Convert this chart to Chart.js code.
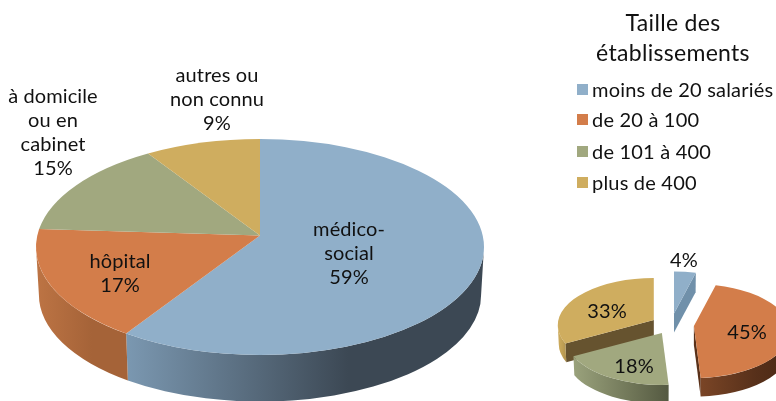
<!DOCTYPE html>
<html lang="fr">
<head>
  <meta charset="UTF-8" />
  <title>Lieux et taille des établissements</title>
  <style>
body { margin: 0; background: #fff; overflow: hidden; font-family: 'Lato', sans-serif; color: #111; }
canvas { position: absolute; left: 0; top: 0; }
.title { position: absolute; left: 573px; width: 200px; top: 7px; text-align: center; font-size: 23px; line-height: 30px; letter-spacing: .3px; }
.row { position: absolute; left: 592px; font-size: 20px; line-height: 24px; white-space: nowrap; letter-spacing: .2px; }
.swatch { position: absolute; left: 577px; width: 11px; height: 11px; }
  </style>
</head>
<body>
  <canvas id="lieux" width="776" height="401"></canvas>
  <canvas id="taille" width="776" height="401"></canvas>
  <div class="title">Taille des<br>établissements</div>
  <div id="legend"></div>

  <script src="https://cdn.jsdelivr.net/npm/chart.js"></script>
  <script>
    const lieuxLabels = [['médico-', 'social'], ['hôpital'], ['à domicile', 'ou en', 'cabinet'], ['autres ou', 'non connu']];
    const lieuxValues = [59, 17, 15, 9];
    const tailleCategories = ['moins de 20 salariés', 'de 20 à 100', 'de 101 à 400', 'plus de 400'];
    const tailleValues = [4, 45, 18, 33];
    const colors = ['#90afc9', '#d37d4a', '#a1a87f', '#cfad5f'];

    // wall shading, left to right
    const lieuxWalls = [['#7b98b1', '#3c4854', '#3c4854'], ['#bd7444', '#a56338', '#a56338'], ['#8c9270', '#8c9270', '#8c9270'], ['#b39550', '#b39550', '#b39550']];
    const tailleWalls = [['#7090aa', '#7090aa', '#7090aa'], ['#7a4526', '#57301a', '#4a2814'], ['#9aa27c', '#6f7557', '#545941'], ['#cfad5f', '#c0a055', '#b39550']];
    const tailleFaces = ['#7090aa', '#5a3119', '#6f7557', '#66532f'];

    // ray from the apex to the rim of the tilted ellipse
    function rimAngle(angle, g) {
      const dx = Math.cos(angle), dy = Math.sin(angle) * g.k;
      const a = dx * dx / (g.rx * g.rx) + dy * dy / (g.ry * g.ry);
      const b = -2 * dy * g.shift / (g.ry * g.ry);
      const c = g.shift * g.shift / (g.ry * g.ry) - 1;
      const t = (-b + Math.sqrt(b * b - 4 * a * c)) / (2 * a);
      let p = Math.atan2((t * dy - g.shift) / g.ry, t * dx / g.rx);
      while (p < angle - Math.PI) p += 2 * Math.PI;
      while (p > angle + Math.PI) p -= 2 * Math.PI;
      return p;
    }

    const pie3d = {
      id: 'pie3d',
      beforeDatasetsDraw(chart, args, opts) {
        const ctx = chart.ctx;
        const arcs = chart.getDatasetMeta(0).data;
        const bg = chart.data.datasets[0].backgroundColor;
        const order = opts.order || arcs.map((a, i) => i);

        order.forEach(i => {
          const arc = arcs[i];
          const mid = (arc.startAngle + arc.endAngle) / 2;
          const off = arc.options.offset || 0;
          const g = { rx: arc.outerRadius, ry: opts.ry, shift: opts.shift, k: opts.k };
          const ax = arc.x + Math.cos(mid) * off;
          const ay = arc.y + Math.sin(mid) * off * opts.k;
          const cy = ay + g.shift;
          const a0 = rimAngle(arc.startAngle, g);
          const a1 = rimAngle(arc.endAngle, g);
          const bx = g.rx * opts.shrink, by = g.ry * opts.shrink;

          // cut faces of the pulled out slices
          if (off > 0) {
            const mx = Math.cos(mid) * g.rx / 2, my = Math.sin(mid) * g.ry / 2 + g.shift;
            [a0, a1].forEach(p => {
              const px = g.rx * Math.cos(p), py = g.ry * Math.sin(p) + g.shift;
              const side = px * my - py * mx;
              if (px * opts.depth * side < 0) {
                ctx.fillStyle = opts.faces[i];
                ctx.beginPath();
                ctx.moveTo(ax, ay);
                ctx.lineTo(ax + px, ay + py);
                ctx.lineTo(ax + px * opts.shrink, ay + py * opts.shrink + opts.depth);
                ctx.lineTo(ax, ay + opts.depth);
                ctx.closePath();
                ctx.fill();
              }
            });
          }

          // front wall
          const lo = Math.max(a0, 0), hi = Math.min(a1, Math.PI);
          if (hi > lo) {
            const x0 = ax + g.rx * Math.cos(hi), x1 = ax + g.rx * Math.cos(lo);
            const grad = ctx.createLinearGradient(x0, 0, x1, 0);
            const wall = opts.walls[i];
            grad.addColorStop(0, wall[0]);
            grad.addColorStop(0.62, wall[1]);
            grad.addColorStop(1, wall[2]);
            ctx.fillStyle = grad;
            ctx.beginPath();
            ctx.ellipse(ax, cy, g.rx, g.ry, 0, lo, hi);
            ctx.ellipse(ax, cy + opts.depth, bx, by, 0, hi, lo, true);
            ctx.closePath();
            ctx.fill();
          }

          // top face
          ctx.fillStyle = bg[i];
          ctx.beginPath();
          ctx.moveTo(ax, ay);
          ctx.ellipse(ax, cy, g.rx, g.ry, 0, a0, a1);
          ctx.closePath();
          ctx.fill();
        });

        // labels
        ctx.fillStyle = '#111';
        ctx.font = '20px Lato, sans-serif';
        ctx.letterSpacing = '0.1px';
        ctx.textAlign = 'center';
        ctx.textBaseline = 'middle';
        chart.data.datasets[0].data.forEach((v, i) => {
          const lines = (opts.names ? opts.names[i] : []).concat(v + '%');
          const at = opts.labelAt[i];
          lines.forEach((line, n) => ctx.fillText(line, at[0], at[1] + n * 23.7));
        });
        return false;
      }
    };

    new Chart(document.getElementById('lieux'), {
      type: 'pie',
      data: { labels: lieuxLabels.map(l => l.join(' ')), datasets: [{ data: lieuxValues, backgroundColor: colors, radius: 224, borderWidth: 0 }] },
      options: {
        responsive: false,
        animation: false,
        layout: { padding: { right: 256, top: 70 } },
        plugins: {
          legend: { display: false },
          tooltip: { enabled: false },
          pie3d: {
            ry: 108, shift: 11.5, k: 0.465, depth: 48, shrink: 0.987, walls: lieuxWalls, names: lieuxLabels,
            labelAt: [[349, 230], [120, 262], [53, 97], [217, 76]]
          }
        }
      },
      plugins: [pie3d]
    });

    new Chart(document.getElementById('taille'), {
      type: 'pie',
      data: { labels: tailleCategories, datasets: [{ data: tailleValues, backgroundColor: colors, radius: 96, offset: [24, 23, 19, 20], borderWidth: 0 }] },
      options: {
        responsive: false,
        animation: false,
        layout: { padding: { left: 566, top: 249 } },
        plugins: {
          legend: { display: false },
          tooltip: { enabled: false },
          pie3d: {
            ry: 47, shift: 5, k: 0.48, depth: 19, shrink: 0.99, walls: tailleWalls, faces: tailleFaces,
            order: [0, 3, 1, 2],
            labelAt: [[684, 261], [747, 333], [634, 367], [607, 312]]
          }
        }
      },
      plugins: [pie3d]
    });

    // legend
    const legendRows = [90, 120, 152, 183];
    const legend = document.getElementById('legend');
    tailleCategories.forEach((name, i) => {
      const s = document.createElement('div');
      s.className = 'swatch';
      s.style.top = (legendRows[i] - 6) + 'px';
      s.style.background = colors[i];
      legend.appendChild(s);
      const r = document.createElement('div');
      r.className = 'row';
      r.style.top = (legendRows[i] - 13) + 'px';
      r.textContent = name;
      legend.appendChild(r);
    });
  </script>
</body>
</html>
